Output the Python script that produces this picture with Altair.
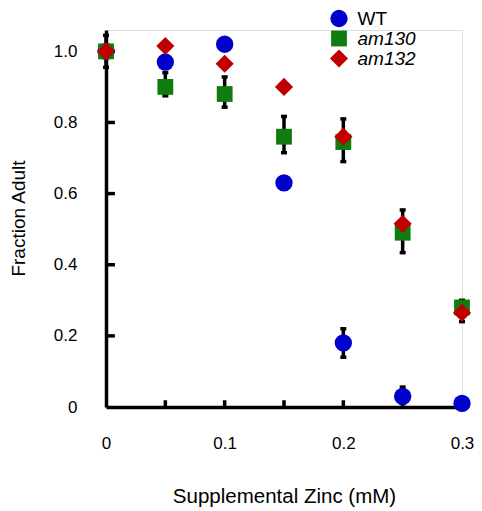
import altair as alt
import pandas as pd

# ---- data ----
zinc = [0, 0.05, 0.1, 0.15, 0.2, 0.25, 0.3]
wt = [1.0, 0.97, 1.02, 0.63, 0.18, 0.03, 0.01]
am130 = [1.0, 0.90, 0.88, 0.76, 0.745, 0.49, 0.28]
am132 = [1.0, 1.015, 0.965, 0.90, 0.76, 0.515, 0.265]

series_names = ["WT", "am130", "am132"]
series_colors = ["#0000CC", "#107C10", "#C00000"]
series_shapes = ["circle", "square", "diamond"]
series_sizes = [300, 250, 330]

err_x = [0, 0.05, 0.1, 0.15, 0.2, 0.25, 0.3, 0.2, 0.25]
err_lo = [0.955, 0.875, 0.843, 0.715, 0.69, 0.434, 0.24, 0.14, 0.01]
err_hi = [1.045, 0.94, 0.928, 0.817, 0.81, 0.554, 0.30, 0.22, 0.056]

x_tick_vals = [0.05, 0.1, 0.15, 0.2, 0.25]
y_tick_vals = [0.2, 0.4, 0.6, 0.8, 1.0]
x_label_vals = [0, 0.1, 0.2, 0.3]
y_label_vals = [0, 0.2, 0.4, 0.6, 0.8, 1.0]

rows = []
for name, vals in zip(series_names, [wt, am130, am132]):
    for xv, v in zip(zinc, vals):
        rows.append({"zinc": xv, "frac": v, "series": name})
pts = pd.DataFrame(rows)
err = pd.DataFrame({"zinc": err_x, "lo": err_lo, "hi": err_hi})
xt = pd.DataFrame({"t": x_tick_vals})
yt = pd.DataFrame({"t": y_tick_vals})

FONT = "Liberation Sans"
xscale = alt.Scale(domain=[0, 0.3], nice=False, zero=False)
yscale = alt.Scale(domain=[0, 1.06], nice=False, zero=False)
lab = "datum.value == 0 ? '0' : format(datum.value, '.1f')"

x_axis = alt.Axis(
    values=x_label_vals, labelExpr=lab, ticks=False, grid=False, labelFlush=False,
    domainColor="black", domainWidth=3.5, labelPadding=28, labelFontSize=17,
    labelFont=FONT, labelColor="black",
    title="Supplemental Zinc (mM)", titleFont=FONT, titleFontSize=20.5,
    titleFontWeight="normal", titleColor="black",
    titleX=178, titleY=95, titleBaseline="alphabetic", titleAlign="center",
)
y_axis = alt.Axis(
    values=y_label_vals, labelExpr=lab, ticks=False, grid=False, labelFlush=False,
    domainColor="black", domainWidth=3.5, labelPadding=29, labelFontSize=17,
    labelFont=FONT, labelColor="black",
    title="Fraction Adult", titleFont=FONT, titleFontSize=19,
    titleFontWeight="normal", titleColor="black",
    titleX=-82, titleY=188, titleBaseline="alphabetic", titleAlign="center", titleAngle=270,
)

leg = alt.Legend(
    title=None, orient="none", legendX=223.5, legendY=-21, padding=0,
    rowPadding=0, labelFontSize=19, labelFont=FONT, labelColor="black",
    labelOffset=9, symbolStrokeWidth=0, symbolOpacity=1,
    labelFontStyle={"expr": "datum.label == 'WT' ? 'normal' : 'italic'"},
)

xticks = alt.Chart(xt).transform_calculate(y0="0", y1="0.019").mark_rule(
    color="black", strokeWidth=3.5
).encode(
    x=alt.X("t:Q", scale=xscale, axis=x_axis),
    y=alt.Y("y0:Q", scale=yscale, axis=y_axis),
    y2="y1:Q",
)
yticks = alt.Chart(yt).transform_calculate(x0="0", x1="0.0075").mark_rule(
    color="black", strokeWidth=3.5
).encode(
    y=alt.Y("t:Q", scale=yscale, axis=y_axis),
    x=alt.X("x0:Q", scale=xscale, axis=x_axis),
    x2="x1:Q",
)

bars = alt.Chart(err).mark_rule(color="black", strokeWidth=3.5).encode(
    x=alt.X("zinc:Q", scale=xscale, axis=x_axis),
    y=alt.Y("lo:Q", scale=yscale, axis=y_axis),
    y2="hi:Q",
)
cap_lo = alt.Chart(err).mark_tick(color="black", orient="horizontal", size=6, thickness=3.5, opacity=1).encode(
    x=alt.X("zinc:Q", scale=xscale, axis=x_axis),
    y=alt.Y("lo:Q", scale=yscale, axis=y_axis),
)
cap_hi = alt.Chart(err).mark_tick(color="black", orient="horizontal", size=6, thickness=3.5, opacity=1).encode(
    x=alt.X("zinc:Q", scale=xscale, axis=x_axis),
    y=alt.Y("hi:Q", scale=yscale, axis=y_axis),
)

points = alt.Chart(pts).mark_point(filled=True, opacity=1, strokeWidth=0).encode(
    x=alt.X("zinc:Q", scale=xscale, axis=x_axis),
    y=alt.Y("frac:Q", scale=yscale, axis=y_axis),
    color=alt.Color("series:N", scale=alt.Scale(domain=series_names, range=series_colors), legend=leg),
    shape=alt.Shape("series:N", scale=alt.Scale(domain=series_names, range=series_shapes), legend=leg),
    size=alt.Size("series:N", scale=alt.Scale(type="ordinal", domain=series_names, range=series_sizes), legend=leg),
)

chart = alt.layer(xticks, yticks, bars, cap_lo, cap_hi, points).properties(
    width=356, height=377,
    padding={"left": 98, "top": 22, "right": 12, "bottom": 100},
    autosize=alt.AutoSizeParams(type="none"),
).configure_view(stroke=None).configure(background="white", font=FONT)

chart.save("out.html", embed_options={"renderer": "svg", "actions": False})
